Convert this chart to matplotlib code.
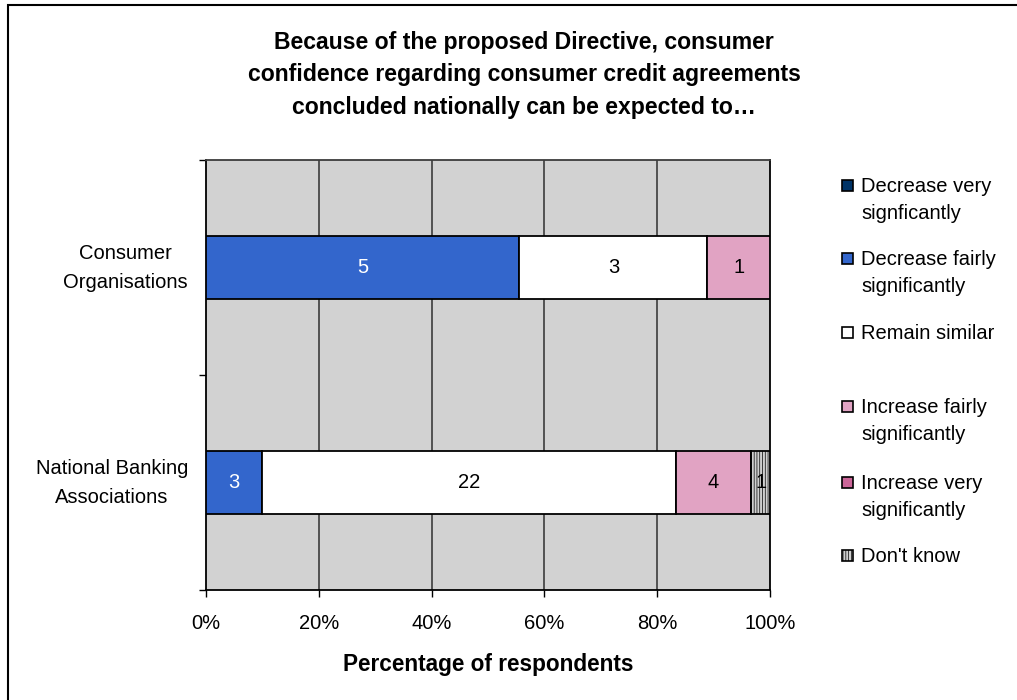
import matplotlib.pyplot as plt
from matplotlib.patches import Rectangle
from matplotlib.transforms import offset_copy, blended_transform_factory

plt.rcParams['font.family'] = ['Liberation Sans', 'DejaVu Sans']
plt.rcParams['hatch.color'] = '#9a9a9a'
plt.rcParams['hatch.linewidth'] = 0.5

TITLE = ('Because of the proposed Directive, consumer\n'
         'confidence regarding consumer credit agreements\n'
         'concluded nationally can be expected to\u2026')

groups = ['Consumer\nOrganisations', 'National Banking\nAssociations']
series = ['Decrease very\nsignficantly', 'Decrease fairly\nsignificantly',
          'Remain similar', 'Increase fairly\nsignificantly',
          'Increase very\nsignificantly', "Don't know"]
counts_consumer = [0, 5, 3, 1, 0, 0]
counts_banking = [0, 3, 22, 4, 0, 1]
colors = ['#003366', '#3366CC', '#FFFFFF', '#E1A3C3', '#CC6699', '#CFCFCF']
hatches = [None, None, None, None, None, '||||||']
label_colors = ['white', 'white', 'black', 'black', 'black', 'black']
xticks = [0, 20, 40, 60, 80, 100]

FS = 14.5

fig = plt.figure(figsize=(10.17, 7.0), dpi=100)
W, H = 1017, 700

# outer chart border (only top/left visible in the reference)
fig.patches.append(Rectangle((8 / W, -0.1), 1.2, 1 - 5 / H + 0.1,
                             transform=fig.transFigure, fill=False,
                             edgecolor='black', linewidth=1.5))

ax = fig.add_axes([206 / W, 110 / H, 564 / W, 430 / H])
ax.set_facecolor('#D2D2D2')
ax.set_xlim(0, 100)
ax.set_ylim(0, 2)

for x in xticks[1:-1]:
    ax.axvline(x, color='#3c3c3c', linewidth=1.2, zorder=1)

ypos = [1.5, 0.5]
bar_h = 0.29
for yi, counts in zip(ypos, [counts_consumer, counts_banking]):
    total = sum(counts)
    left = 0.0
    for i, c in enumerate(counts):
        if c == 0:
            continue
        w = 100.0 * c / total
        ax.barh(yi, w, left=left, height=bar_h, color=colors[i],
                edgecolor='black', linewidth=1.3, hatch=hatches[i], zorder=3)
        ax.text(left + w / 2, yi, str(c), ha='center', va='center',
                fontsize=FS, color=label_colors[i], zorder=4)
        left += w

ax.set_xticks(xticks)
ax.set_xticklabels([f'{x}%' for x in xticks], fontsize=FS)
ax.tick_params(axis='x', length=5, width=1, pad=12)
ax.set_yticks([0, 1, 2])
ax.set_yticklabels([])
ax.tick_params(axis='y', length=5, width=1)

# category labels: two centred lines, block right-aligned near the axis
blend = blended_transform_factory(ax.transAxes, ax.transData)
for yi, g in zip(ypos, groups):
    lines = g.split('\n')
    texts = []
    for k, line in enumerate(lines):
        tr = offset_copy(blend, fig=fig, x=-18, y=-(k - 0.5) * 29 - 6,
                         units='dots')
        texts.append(ax.text(0, yi, line, transform=tr, ha='center',
                             va='baseline', fontsize=FS))
    fig.canvas.draw()
    r = fig.canvas.get_renderer()
    wmax = max(t.get_window_extent(r).width for t in texts)
    for t in texts:
        t.set_transform(offset_copy(t.get_transform(), fig=fig,
                                    x=-wmax / 2, y=0, units='dots'))

for s in ['left', 'bottom', 'right']:
    ax.spines[s].set_color('black')
    ax.spines[s].set_linewidth(1.3)
ax.spines['top'].set_color('#3c3c3c')
ax.spines['top'].set_linewidth(1.3)

ax.set_xlabel('Percentage of respondents', fontsize=16.3, fontweight='bold',
              labelpad=15)

fig.text(524 / W, 1 - 75 / H, TITLE, ha='center', va='center',
         fontsize=16.6, fontweight='bold', linespacing=1.55)

# legend, placed by hand to match the irregular spacing
legend_y = [185, 258, 332, 406, 482, 555]
for i, (lab, y) in enumerate(zip(series, legend_y)):
    fig.patches.append(Rectangle((842 / W, 1 - (y + 6) / H), 11 / W, 11 / H,
                                 transform=fig.transFigure,
                                 facecolor=colors[i], edgecolor='black',
                                 linewidth=1.2, hatch=hatches[i]))
    for k, line in enumerate(lab.split('\n')):
        fig.text(861 / W, 1 - (y + 7 + 27 * k) / H, line, ha='left',
                 va='baseline', fontsize=FS)

fig.savefig('out.png', dpi=100)
